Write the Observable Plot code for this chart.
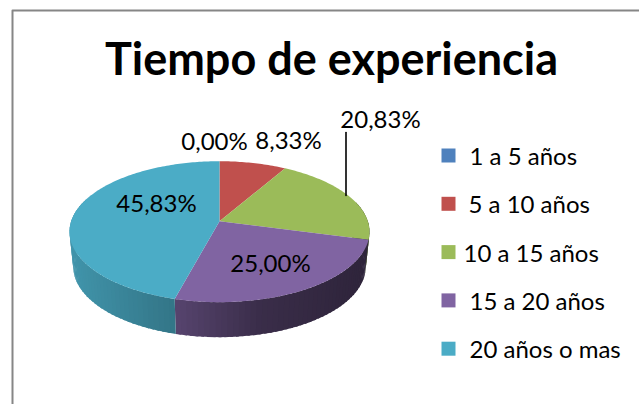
<!DOCTYPE html>
<html><head><meta charset="utf-8">
<style>html,body{margin:0;padding:0;background:#fff}svg{display:block}</style>
<script src="https://cdn.jsdelivr.net/npm/d3@7"></script>
<script src="https://cdn.jsdelivr.net/npm/@observablehq/plot@0.6"></script>
</head><body><script>
const titleText = "Tiempo de experiencia";
const categories = ["1 a 5 años","5 a 10 años","10 a 15 años","15 a 20 años","20 años o mas"];
const values = [0, 8.33, 20.83, 25.00, 45.83];
const percentLabels = ["0,00%","8,33%","20,83%","25,00%","45,83%"];
const colors = ["#4f81bd","#c0504d","#9bbb59","#8064a2","#4bacc6"];

const W=639,H=404;
// projective view of the pie disc
const cx=219, cy=220.7, R=148.3, A=68.9, K=-0.149, depth=35, shrink=0.975;
const project=(deg,r=1,bottom=false)=>{
  const t=deg*Math.PI/180,u=r*Math.sin(t),v=-r*Math.cos(t),d=1+K*v;
  const s=bottom?shrink:1;
  return {x:cx+R*s*u/d,y:cy+A*v/d+(bottom?depth:0)};
};
const shade=d3.scaleLinear([0,.35,.64,1],[.86,.68,.45,.36]);
const total=d3.sum(values);
let cum=0;
const slices=values.map((v,i)=>{const a0=cum/total*360;cum+=v;return {i,a0,a1:cum/total*360,color:colors[i]};});

const faces=[],strips=[];
for(const s of slices){
  const n=Math.ceil((s.a1-s.a0)/2);
  if(n===0) continue;
  const id="f"+s.i;
  faces.push({...project(0,0),id,c:s.color});
  for(let k=0;k<=n*2;k++) faces.push({...project(s.a0+(s.a1-s.a0)*k/(n*2)),id,c:s.color});
  const step=(s.a1-s.a0)/n;
  for(let k=0;k<n;k++){
    const a=s.a0+step*k,b=a+step,mid=(a+b)/2;
    if(Math.cos(mid*Math.PI/180)>0.3) continue; // back of the disc is hidden
    const t=(project(mid).x-(cx-R))/(2*R);
    const f=shade(t);
    const c=d3.rgb(s.color);
    const col=d3.rgb(c.r*f,c.g*f,c.b*f).formatHex();
    const b2=Math.min(b+step*0.5,s.a1);   // overlap the next band so that no seams show
    [project(a),project(b2),project(b2,1,true),project(a,1,true)].forEach(q=>strips.push({...q,id:`s${s.i}-${k}`,c:col}));
  }
}
const labelPos=[[214,142],[288,141],[380,120],[270,264],[156,204]];
const labels=percentLabels.map((t,i)=>({t,x:labelPos[i][0],y:labelPos[i][1]}));
const legendSwatch=categories.map((t,i)=>({t,c:colors[i],y:155+i*48.3}));
const legendX=[469,468,463,469,469];
const legendText=categories.map((t,i)=>({t,x:legendX[i],y:157+i*48.3}));

const plot=Plot.plot({
  width:W,height:H,margin:0,
  x:{domain:[0,W],range:[0,W],axis:null},
  y:{domain:[0,H],range:[0,H],axis:null},
  color:{type:"identity"},
  style:{background:"#fff",fontFamily:"Lato"},
  marks:[
    Plot.line([{x:W,y:10},{x:12,y:10},{x:12,y:H}],{x:"x",y:"y",stroke:"#868686",strokeWidth:2}),
    Plot.line(strips,{x:"x",y:"y",z:"id",fill:"c"}),
    Plot.line(faces,{x:"x",y:"y",z:"id",fill:"c"}),
    Plot.line([{x:345.5,y:132},{x:345.5,y:195}],{x:"x",y:"y",stroke:"#000",strokeWidth:1.6}),
    Plot.text(labels,{x:"x",y:"y",text:"t",fontSize:24,fill:"#000"}),
    Plot.text([titleText],{x:()=>331,y:()=>60,text:d=>d,fontSize:45,fontWeight:700,fill:"#000"}),
    Plot.dot(legendSwatch,{x:()=>448,y:"y",fill:"c",symbol:"square",r:7.9}),
    Plot.text(legendText,{x:"x",y:"y",text:"t",textAnchor:"start",fontSize:24,fill:"#000"})
  ]
});
document.body.appendChild(plot);
</script></body></html>
